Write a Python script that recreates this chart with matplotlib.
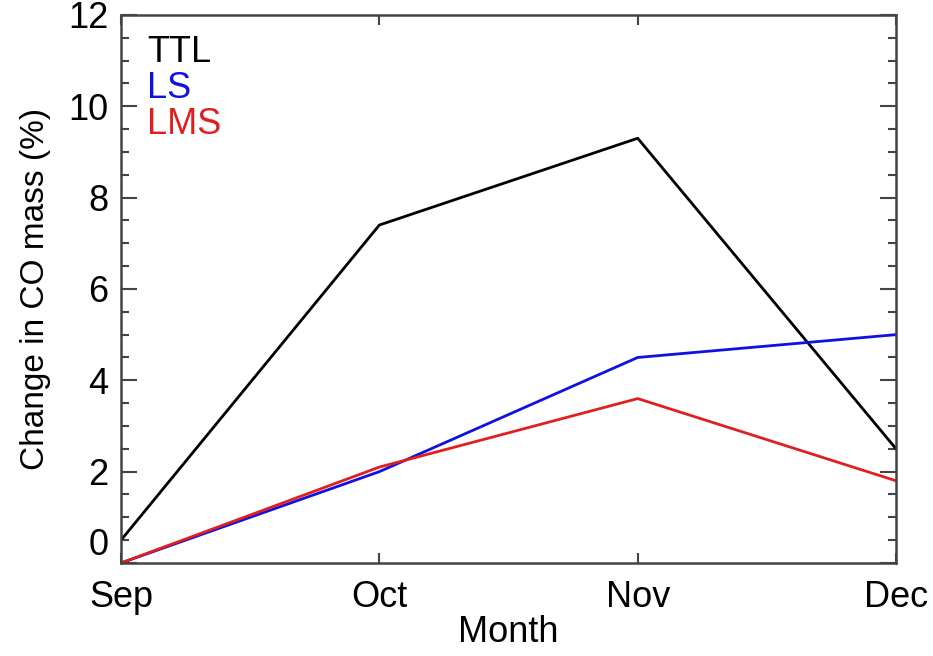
import numpy as np
import matplotlib.pyplot as plt
from matplotlib.ticker import MultipleLocator

months = ['Sep', 'Oct', 'Nov', 'Dec']
ttl = [0.5, 7.4, 9.3, 2.5]
ls = [0.0, 2.0, 4.5, 5.0]
lms = [0.0, 2.1, 3.6, 1.8]

plt.rcParams['font.family'] = ['Liberation Sans', 'DejaVu Sans']
spine_col = '#444444'
fs = 26

fig = plt.figure(figsize=(9.33, 6.56), dpi=100)
ax = fig.add_axes([0.1297, 0.1418, 0.8307, 0.8354])

x = np.arange(len(months))
ax.plot(x, ttl, color='black', lw=2)
ax.plot(x, ls, color='#1010e0', lw=2)
ax.plot(x, lms, color='#e02020', lw=2)

ax.set_xlim(0, 3)
ax.set_ylim(0, 12)
ax.set_xticks(x)
ax.set_xticklabels(months)
yt = np.arange(0, 13, 2)
ax.set_yticks(yt)
ax.set_yticklabels([str(v) for v in yt])
ax.yaxis.set_minor_locator(MultipleLocator(0.5))

ax.tick_params(axis='x', which='major', direction='in', top=True, length=7.5,
               width=1.5, color=spine_col, labelsize=fs, pad=12)
ax.tick_params(axis='y', which='major', direction='in', right=True, length=11.5,
               width=1.5, color=spine_col, labelsize=fs, pad=9)
ax.tick_params(axis='y', which='minor', direction='in', right=True, length=6,
               width=1.5, color=spine_col)
for s in ax.spines.values():
    s.set_color(spine_col)
    s.set_linewidth(1.8)

# "0" sits just above its tick so it clears "Sep"
ax.get_yticklabels()[0].set_verticalalignment('bottom')

ax.set_xlabel('Month', fontsize=fs, labelpad=0)
ax.set_ylabel('Change in CO mass (%)', fontsize=24, labelpad=12)

# series names in the upper left corner
for i, (name, col) in enumerate([('TTL', 'black'), ('LS', '#1010e0'), ('LMS', '#e02020')]):
    ax.text(0.034, 0.914 - i * 0.0657, name, color=col, fontsize=fs,
            transform=ax.transAxes, va='baseline', ha='left')

fig.savefig('out.png', dpi=100)
